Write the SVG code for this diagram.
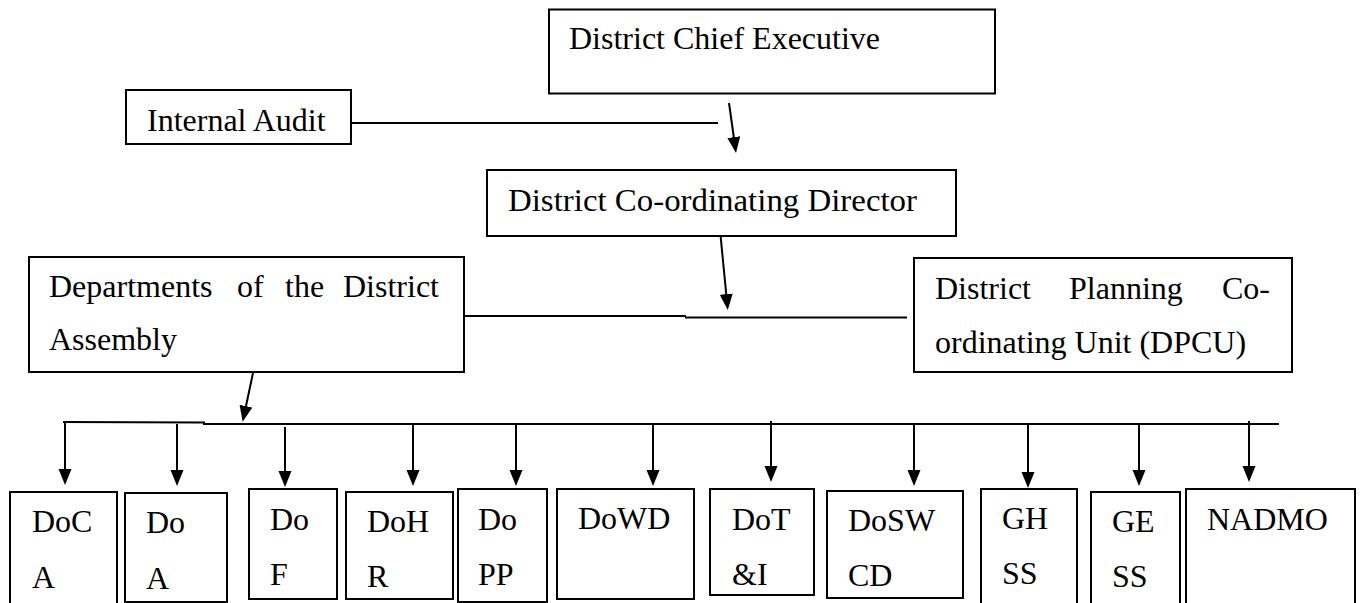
<svg xmlns="http://www.w3.org/2000/svg" width="1362" height="603" viewBox="0 0 1362 603">
<style>
.box{fill:#fff;stroke:#000;stroke-width:2}
.ln{fill:none;stroke:#000;stroke-width:2}
.ar{fill:none;stroke:#000;stroke-width:2;marker-end:url(#ah)}
text{font-family:"Liberation Serif","Times New Roman",serif;font-size:32px;fill:#000}
</style>
<defs>
<marker id="ah" markerUnits="userSpaceOnUse" markerWidth="16" markerHeight="14" refX="8" refY="6.5" orient="auto">
<path d="M0,0 L16,6.5 L0,13 z" fill="#000"/>
</marker>
</defs>
<rect width="1362" height="603" fill="#fff"/>

<g id="connectors">
<line class="ln" x1="352" y1="123" x2="718" y2="123"/>
<line class="ar" x1="729" y1="103" x2="734.9" y2="145"/>
<line class="ar" x1="720" y1="230" x2="727" y2="302"/>
<line class="ln" x1="464" y1="316" x2="686" y2="316"/>
<line class="ln" x1="685" y1="317.5" x2="907" y2="317.5"/>
<line class="ar" x1="253" y1="373" x2="244.3" y2="414"/>
<line class="ln" x1="63" y1="422" x2="205" y2="422.5"/>
<line class="ln" x1="203" y1="424" x2="1279" y2="424"/>
<line class="ar" x1="65" y1="423" x2="65" y2="477"/>
<line class="ar" x1="177" y1="424" x2="177" y2="478"/>
<line class="ar" x1="285" y1="427" x2="285" y2="479"/>
<line class="ar" x1="413" y1="424" x2="413" y2="478"/>
<line class="ar" x1="516" y1="424" x2="516" y2="478"/>
<line class="ar" x1="653" y1="424" x2="653" y2="478"/>
<line class="ar" x1="771" y1="421" x2="771" y2="474"/>
<line class="ar" x1="914" y1="424" x2="914" y2="478"/>
<line class="ar" x1="1028" y1="424" x2="1028" y2="480"/>
<line class="ar" x1="1139" y1="424" x2="1139" y2="478"/>
<line class="ar" x1="1249" y1="421" x2="1249" y2="474"/>
</g>

<g id="dce"><rect class="box" x="549" y="9.5" width="446" height="84"/><text x="569" y="49">District Chief Executive</text></g>
<g id="ia"><rect class="box" x="126" y="90" width="225" height="54"/><text x="147" y="131">Internal Audit</text></g>
<g id="dcd"><rect class="box" x="487" y="170" width="469" height="66"/><text x="508" y="211" textLength="409" lengthAdjust="spacingAndGlyphs">District Co-ordinating Director</text></g>
<g id="dept"><rect class="box" x="29" y="257" width="435" height="115"/>
<text x="49" y="297">Departments</text><text x="237" y="297">of</text><text x="285" y="297">the</text><text x="343" y="297">District</text>
<text x="49" y="350">Assembly</text></g>
<g id="dpcu"><rect class="box" x="914" y="258" width="378" height="114"/>
<text x="935" y="299">District</text><text x="1069" y="299">Planning</text><text x="1222" y="299">Co-</text>
<text x="935" y="353">ordinating Unit (DPCU)</text></g>

<g id="doca"><rect class="box" x="10" y="492" width="107" height="120"/><text x="32" y="532">DoC</text><text x="32" y="588">A</text></g>
<g id="doa"><rect class="box" x="125" y="493" width="102" height="109"/><text x="146" y="533">Do</text><text x="146" y="589">A</text></g>
<g id="dof"><rect class="box" x="249" y="489" width="88" height="110"/><text x="270" y="530">Do</text><text x="270" y="585">F</text></g>
<g id="dohr"><rect class="box" x="346" y="492" width="107" height="107"/><text x="367" y="532">DoH</text><text x="367" y="587">R</text></g>
<g id="dopp"><rect class="box" x="458" y="489" width="89" height="113"/><text x="478" y="530">Do</text><text x="478" y="585">PP</text></g>
<g id="dowd"><rect class="box" x="557" y="489" width="137" height="110"/><text x="578" y="529">DoWD</text></g>
<g id="doti"><rect class="box" x="710" y="489" width="104" height="106"/><text x="732" y="530">DoT</text><text x="732" y="585">&amp;I</text></g>
<g id="doswcd"><rect class="box" x="827" y="491" width="136" height="107"/><text x="848" y="531">DoSW</text><text x="848" y="586">CD</text></g>
<g id="ghss"><rect class="box" x="981" y="489" width="96" height="123"/><text x="1002" y="529">GH</text><text x="1002" y="584">SS</text></g>
<g id="gess"><rect class="box" x="1091" y="492" width="89" height="120"/><text x="1112" y="532">GE</text><text x="1112" y="587">SS</text></g>
<g id="nadmo"><rect class="box" x="1186" y="489" width="169" height="123"/><text x="1207" y="530">NADMO</text></g>
</svg>
